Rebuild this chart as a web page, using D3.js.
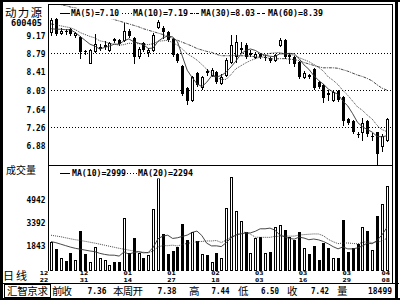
<!DOCTYPE html>
<html><head><meta charset="utf-8">
<script src="https://cdn.jsdelivr.net/npm/d3@7"></script>
<style>
html,body{margin:0;padding:0;background:#fff;}
svg{display:block;}
.num{font-family:"DejaVu Sans Mono","Liberation Mono",monospace;font-weight:bold;fill:#000;}
.cjk{font-family:"Noto Sans CJK SC","Noto Sans CJK JP",sans-serif;fill:#000;}
</style></head><body>
<svg id="c" width="400" height="300"></svg>
<script>
// ---------------- data ----------------
const stockName = "动力源";
const stockCode = "600405";
const opens  = [9.24,9.51,9.22,9.25,9.29,9.18,9.13,8.84,8.60,8.84, 8.90,8.94,8.86,9.09,9.07,9.06,9.25,9.11,8.74,9.00,
                8.81,8.86,9.33,9.31,9.23,9.09,8.78,8.53,8.08,7.83, 8.39,8.10,8.43,8.35,8.41,8.18,8.35,8.61,8.74,8.88,
                8.97,8.78,8.72,8.77,8.71,8.70,8.65,8.96,9.07,8.74, 8.72,8.61,8.30,8.35,8.47,8.20,8.14,7.97,7.83,8.00,
                7.89,7.42,7.38,7.12,7.15,7.38,7.07,7.15,6.86,7.00];
const highs  = [9.52,9.53,9.31,9.29,9.31,9.23,9.15,8.86,8.88,9.19, 8.98,9.05,9.03,9.11,9.09,9.42,9.29,9.13,8.92,9.03,
                8.90,9.21,9.48,9.36,9.25,9.11,8.80,8.55,8.10,8.32, 8.41,8.32,8.47,8.49,8.43,8.37,8.70,9.17,9.17,9.03,
                9.00,8.86,8.82,8.80,8.76,8.72,8.78,9.11,9.09,8.80, 8.74,8.63,8.43,8.37,8.49,8.22,8.16,8.04,8.04,8.04,
                7.91,7.44,7.40,7.15,7.44,7.40,7.13,7.17,7.11,7.44];
const lows   = [9.17,9.16,9.19,9.19,9.17,9.13,8.70,8.78,8.59,8.82, 8.85,8.88,8.84,9.03,8.96,9.05,9.13,8.59,8.70,8.84,
                8.74,8.84,9.31,9.11,9.05,8.74,8.61,7.93,7.75,7.81, 8.12,8.06,8.35,8.32,8.18,8.16,8.32,8.59,8.61,8.82,
                8.70,8.74,8.70,8.70,8.65,8.61,8.63,8.94,8.70,8.59, 8.53,8.28,8.28,8.28,8.06,8.08,7.79,7.83,7.81,7.81,
                7.31,7.33,7.13,7.05,7.00,7.07,7.00,6.50,6.76,6.98];
const closes = [9.49,9.20,9.26,9.24,9.19,9.21,8.82,8.83,8.86,8.98, 8.92,8.96,9.00,9.04,8.98,9.26,9.15,8.72,8.88,8.86,
                8.86,9.16,9.44,9.23,9.07,8.76,8.63,7.95,7.80,8.30, 8.14,8.30,8.39,8.45,8.20,8.30,8.65,8.96,9.03,8.91,
                8.72,8.80,8.78,8.72,8.72,8.63,8.76,9.07,8.72,8.76, 8.57,8.30,8.39,8.29,8.08,8.10,7.87,7.93,7.99,7.83,
                7.38,7.35,7.15,7.10,7.35,7.11,7.08,6.70,7.07,7.42];
const volumes = [2067,1574,990,765,1282,833,2786,1215,720,1731, 945,833,496,720,676,3639,1282,2292,1326,945,
                 1170,4245,6333,2561,1237,1461,1731,3235,2180,2741, 2112,1237,1170,720,1282,945,4357,6445,4155,3482,
                 2696,1326,2292,2359,1282,1394,3078,3190,2853,2404, 2200,2700,1650,1237,1750,833,1950,1620,945,945,
                 3500,1394,1650,1880,3050,2800,1500,3800,4600,5800];
const ma5  = [9.30,9.29,9.29,9.28,9.28,9.22,9.14,9.06,8.98,8.94, 8.88,8.91,8.94,8.98,8.98,9.05,9.09,9.03,9.00,8.97,
              8.89,8.90,9.04,9.11,9.15,9.13,9.03,8.73,8.44,8.29, 8.16,8.10,8.19,8.32,8.30,8.33,8.40,8.51,8.63,8.77,
              8.85,8.88,8.85,8.79,8.75,8.73,8.72,8.78,8.78,8.79, 8.78,8.68,8.55,8.46,8.33,8.23,8.15,8.05,7.99,7.94,
              7.80,7.70,7.54,7.36,7.27,7.21,7.16,7.07,7.06,7.08];
const ma10 = [9.40,9.38,9.36,9.34,9.32,9.28,9.22,9.18,9.14,9.11, 9.05,9.03,9.00,8.98,8.96,8.97,9.00,8.99,8.99,8.98,
              8.97,8.99,9.04,9.05,9.06,9.01,8.96,8.88,8.78,8.72, 8.65,8.56,8.46,8.38,8.29,8.25,8.25,8.35,8.47,8.53,
              8.59,8.64,8.68,8.71,8.76,8.79,8.80,8.81,8.78,8.77, 8.75,8.70,8.66,8.62,8.56,8.50,8.42,8.30,8.23,8.14,
              8.02,7.92,7.80,7.68,7.61,7.51,7.43,7.30,7.21,7.17];
const ma30 = [9.85,9.83,9.80,9.78,9.75,9.73,9.70,9.67,9.64,9.61, 9.58,9.55,9.52,9.49,9.46,9.43,9.40,9.37,9.34,9.30,
              9.27,9.24,9.21,9.18,9.14,9.10,9.06,9.02,8.98,8.94, 8.89,8.86,8.83,8.81,8.77,8.74,8.74,8.74,8.75,8.74,
              8.74,8.73,8.72,8.71,8.71,8.68,8.67,8.68,8.68,8.67, 8.66,8.64,8.60,8.57,8.54,8.51,8.49,8.49,8.49,8.48,
              8.45,8.42,8.38,8.34,8.31,8.27,8.22,8.14,8.07,8.03];
const volMa10 = [2070,2000,1900,1800,1700,1620,1560,1500,1440,1396, 1284,1210,1161,1156,1096,1376,1226,1333,1394,1315,
                 1338,1679,2263,2447,2503,2285,2330,2424,2510,2689, 2784,2483,1967,1782,1787,1735,1998,2319,2516,2591,
                 2649,2658,2770,2934,2934,2979,2851,2525,2395,2287, 2238,2375,2311,2199,2246,2190,2077,1920,1729,1583,
                 1713,1582,1582,1647,1777,1973,1928,2146,2512,2997];
const volMa20 = [2500,2450,2400,2330,2260,2200,2150,2090,2030,1970, 1900,1830,1760,1690,1620,1560,1500,1440,1390,1356,
                 1311,1445,1712,1802,1799,1831,1778,1879,1952,2002, 2061,2081,2115,2115,2145,2010,2164,2372,2513,2640,
                 2716,2570,2368,2358,2360,2357,2424,2422,2456,2439, 2443,2517,2541,2566,2590,2584,2464,2223,2062,1935,
                 1975,1979,1947,1923,2011,2081,1998,2028,2115,2285];
const priceTicks = [9.17, 8.79, 8.41, 8.03, 7.64, 7.26, 6.88];
const priceGrid  = [8.79, 8.03, 7.26];
const volTicks   = [4942, 3392, 1843];
const dateMonths = ["12","12","01","01","02","03","03","03","04"];
const dateDays   = ["22","31","14","27","18","03","16","29","08"];
const dateBars   = [0, 7, 16, 25, 34, 43, 52, 61, 69];
const priceLegendNames  = ["MA(5)","MA(10)","MA(30)","MA(60)"];
const priceLegendValues = ["7.10","7.19","8.03","8.39"];
const volLegendNames  = ["MA(10)","MA(20)"];
const volLegendValues = ["2999","2294"];
const statusLabels = ["前收","本周开","高","低","收","量"];
const statusValues = ["7.36","7.38","7.44","6.50","7.42","18499"];
const periodLabel = "日线";
const volumeTitle = "成交量";
const footerTitle = "汇智京求";

// ---------------- drawing ----------------
const svg = d3.select("#c");
const L = 48, R = 392, PT = 4, PB = 165, VB = 270;
const N = closes.length;
const x  = d3.scaleLinear().domain([0, N - 1]).range([51, 386.7]);
const yP = d3.scaleLinear().domain([6.88, 9.17]).range([145.5, 35]);
const yV = d3.scaleLinear().domain([1843, 4942]).range([245, 199]);

svg.append("rect").attr("width", 400).attr("height", 300).attr("fill", "#fff");
const defs = svg.append("defs");
defs.append("clipPath").attr("id", "clipP").append("rect").attr("x", L + 1).attr("y", PT + 1).attr("width", R - L - 1).attr("height", PB - PT - 1);
defs.append("clipPath").attr("id", "clipV").append("rect").attr("x", L + 1).attr("y", PB + 1).attr("width", R - L - 1).attr("height", VB - PB);

// grid
svg.append("g").selectAll("line").data(priceGrid).join("line")
  .attr("x1", L).attr("x2", R)
  .attr("y1", d => Math.round(yP(d)) + 0.5).attr("y2", d => Math.round(yP(d)) + 0.5)
  .attr("stroke", "#000").attr("stroke-width", 1).attr("stroke-dasharray", "1,2");

const bars = d3.range(N).map(i => ({ i, o: opens[i], h: highs[i], l: lows[i], c: closes[i], v: volumes[i], up: closes[i] >= opens[i] }));
const px = d => Math.round(x(d.i));

// candles
const cg = svg.append("g").attr("clip-path", "url(#clipP)").attr("shape-rendering", "crispEdges");
cg.selectAll("line").data(bars).join("line")
  .attr("x1", d => px(d) + 0.5).attr("x2", d => px(d) + 0.5)
  .attr("y1", d => Math.round(yP(d.h))).attr("y2", d => Math.round(yP(d.l)) + 1)
  .attr("stroke", "#000");
cg.selectAll("rect").data(bars).join("rect")
  .each(function (d) {
    const t = Math.round(yP(Math.max(d.o, d.c))), b = Math.round(yP(Math.min(d.o, d.c)));
    const s = d3.select(this);
    if (d.up) {
      s.attr("x", px(d) - 1 + 0.5).attr("width", 2).attr("y", t + 0.5).attr("height", Math.max(b - t, 0.01))
        .attr("fill", "#fff").attr("stroke", "#000");
    } else {
      s.attr("x", px(d) - 1).attr("width", 3).attr("y", t).attr("height", Math.max(b - t, 1)).attr("fill", "#000");
    }
  });

// MA lines price
const maStyles = [
  { data: ma5,  dash: null },
  { data: ma10, dash: "1,1" },
  { data: ma30, dash: "3,1,1,1" }
];
const lineP = d3.line().x((d, i) => x(i)).y(d => yP(d)).curve(d3.curveLinear);
const mg = svg.append("g").attr("clip-path", "url(#clipP)");
maStyles.forEach(s => {
  mg.append("path").attr("d", lineP(s.data)).attr("fill", "none").attr("stroke", "#333")
    .attr("stroke-width", 0.9).attr("stroke-dasharray", s.dash);
});

// volume bars
const vg = svg.append("g").attr("clip-path", "url(#clipV)").attr("shape-rendering", "crispEdges");
vg.selectAll("rect").data(bars).join("rect")
  .each(function (d) {
    const t = Math.round(yV(d.v));
    const s = d3.select(this);
    if (d.up) {
      s.attr("x", px(d) - 1 + 0.5).attr("width", 2).attr("y", t + 0.5).attr("height", VB - t)
        .attr("fill", "#fff").attr("stroke", "#000");
    } else {
      s.attr("x", px(d) - 1).attr("width", 3).attr("y", t).attr("height", VB - t + 1).attr("fill", "#000");
    }
  });
const lineV = d3.line().x((d, i) => x(i)).y(d => yV(d));
const vmg = svg.append("g").attr("clip-path", "url(#clipV)");
vmg.append("path").attr("d", lineV(volMa10)).attr("fill", "none").attr("stroke", "#333").attr("stroke-width", 0.9);
vmg.append("path").attr("d", lineV(volMa20)).attr("fill", "none").attr("stroke", "#333").attr("stroke-width", 0.9).attr("stroke-dasharray", "1,1");

// legends (opaque)
function legend(y, items, names, values) {
  const g = svg.append("g");
  g.append("rect").attr("x", items[0].sx - 2).attr("y", y - 8).attr("width", items[items.length - 1].tx + items[items.length - 1].tw - items[0].sx + 4).attr("height", 11).attr("fill", "#fff");
  items.forEach((it, k) => {
    g.append("line").attr("x1", it.sx).attr("x2", it.sx + 10).attr("y1", y - 2.5).attr("y2", y - 2.5)
      .attr("stroke", "#000").attr("stroke-width", 1).attr("stroke-dasharray", it.dash).attr("shape-rendering", "crispEdges");
    g.append("text").attr("class", "num").attr("x", it.tx).attr("y", y).attr("font-size", 8.6)
      .attr("textLength", it.tw).attr("lengthAdjust", "spacingAndGlyphs").text(names[k] + "=" + values[k]);
  });
}
legend(16.3, [
  { sx: 60, tx: 71, tw: 48, dash: null },
  { sx: 122, tx: 133, tw: 55, dash: "1,2" },
  { sx: 190, tx: 201, tw: 54, dash: "3,1,1,1" },
  { sx: 257, tx: 268, tw: 55, dash: "3,2" }
], priceLegendNames, priceLegendValues);
legend(175.5, [
  { sx: 60, tx: 72, tw: 54, dash: null },
  { sx: 127, tx: 138, tw: 55, dash: "1,2" }
], volLegendNames, volLegendValues);

// price axis
const ax = svg.append("g").attr("transform", "translate(45.5,0)")
  .call(d3.axisLeft(yP).tickValues(priceTicks).tickSize(0).tickPadding(0).tickFormat(d3.format(".2f")));
ax.select(".domain").remove();
ax.selectAll("text").attr("class", "num").attr("font-size", 9).attr("font-family", null)
  .attr("textLength", 19).attr("lengthAdjust", "spacingAndGlyphs").attr("dy", "0.36em");

// volume axis
const axv = svg.append("g").attr("transform", "translate(45.5,0)")
  .call(d3.axisLeft(yV).tickValues(volTicks).tickSize(0).tickPadding(0).tickFormat(d3.format("d")));
axv.select(".domain").remove();
axv.selectAll("text").attr("class", "num").attr("font-size", 9).attr("font-family", null)
  .attr("textLength", 19).attr("lengthAdjust", "spacingAndGlyphs").attr("dy", "0.36em");

// names
svg.append("text").attr("class", "cjk").attr("x", 5).attr("y", 16.5).attr("font-size", 11.5)
  .attr("textLength", 37).attr("lengthAdjust", "spacing").text(stockName);
svg.append("text").attr("class", "num").attr("x", 11).attr("y", 26).attr("font-size", 9)
  .attr("textLength", 31).attr("lengthAdjust", "spacingAndGlyphs").text(stockCode);
svg.append("text").attr("class", "cjk").attr("x", 6).attr("y", 173.5).attr("font-size", 10)
  .attr("textLength", 30).attr("lengthAdjust", "spacing").text(volumeTitle);
svg.append("text").attr("class", "cjk").attr("x", 3).attr("y", 280).attr("font-size", 11)
  .attr("textLength", 24).attr("lengthAdjust", "spacing").text(periodLabel);

// date labels
const dg = svg.append("g");
dateBars.forEach((b, k) => {
  let cx = x(b) - 1;
  if (cx - 4.5 < L + 1) cx = L - 4;
  dg.append("text").attr("class", "num").attr("x", cx).attr("y", 275.2).attr("font-size", 5.5)
    .attr("text-anchor", "middle").attr("textLength", 8.5).attr("lengthAdjust", "spacingAndGlyphs").text(dateMonths[k]);
  dg.append("text").attr("class", "num").attr("x", cx).attr("y", 281.8).attr("font-size", 5.5)
    .attr("text-anchor", "middle").attr("textLength", 8.5).attr("lengthAdjust", "spacingAndGlyphs").text(dateDays[k]);
});

// frames
const fr = svg.append("g").attr("shape-rendering", "crispEdges").attr("stroke", "#000").attr("fill", "none");
fr.append("line").attr("x1", L + 0.5).attr("x2", L + 0.5).attr("y1", PT).attr("y2", VB + 1);
fr.append("line").attr("x1", L).attr("x2", R).attr("y1", PT + 0.5).attr("y2", PT + 0.5);
fr.append("line").attr("x1", L).attr("x2", R).attr("y1", PB + 0.5).attr("y2", PB + 0.5);
fr.append("line").attr("x1", R + 0.5).attr("x2", R + 0.5).attr("y1", PT).attr("y2", 283);
fr.append("line").attr("x1", 0).attr("x2", 399).attr("y1", 283.5).attr("y2", 283.5);
fr.append("rect").attr("x", 4.5).attr("y", 284.5).attr("width", 46).attr("height", 13);
svg.append("rect").attr("x", 0).attr("y", 0).attr("width", 3).attr("height", 300).attr("fill", "#000");
svg.append("rect").attr("x", 0).attr("y", 0).attr("width", 400).attr("height", 2).attr("fill", "#000");
svg.append("rect").attr("x", 395).attr("y", 0).attr("width", 3).attr("height", 300).attr("fill", "#000");
svg.append("rect").attr("x", 0).attr("y", 298).attr("width", 400).attr("height", 2).attr("fill", "#000");

// status bar
svg.append("text").attr("class", "cjk").attr("x", 7).attr("y", 295).attr("font-size", 10.5)
  .attr("textLength", 41).attr("lengthAdjust", "spacing").text(footerTitle);
const labX = [52, 113, 189, 238, 287, 337];
const labW = [20, 30, 11, 11, 11, 11];
const valC = [97, 167, 220.5, 270, 320, 380];
const valW = [19, 19, 18, 18, 18, 24];
statusLabels.forEach((t, k) => {
  svg.append("text").attr("class", "cjk").attr("x", labX[k]).attr("y", 295).attr("font-size", 10.5)
    .attr("textLength", labW[k]).attr("lengthAdjust", "spacing").text(t);
  svg.append("text").attr("class", "num").attr("x", valC[k]).attr("y", 293.5).attr("font-size", 9)
    .attr("text-anchor", "middle").attr("textLength", valW[k]).attr("lengthAdjust", "spacingAndGlyphs").text(statusValues[k]);
});
</script>
</body></html>
